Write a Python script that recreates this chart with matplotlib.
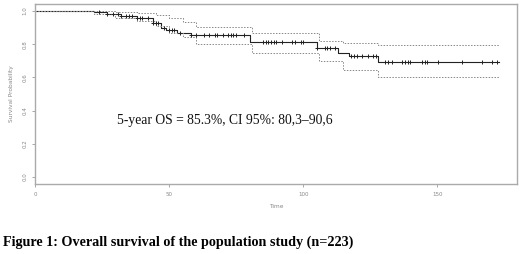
import numpy as np
import matplotlib
matplotlib.use("Agg")
import matplotlib.pyplot as plt

# Kaplan-Meier step curve (time where each step starts, survival value)
km_time = [0, 22, 27, 32, 38, 44, 47, 49, 53, 58, 80, 105, 113, 117, 128]
km_surv = [1.0, 0.995, 0.98, 0.97, 0.955, 0.93, 0.90, 0.885, 0.87, 0.855, 0.814, 0.776, 0.746, 0.728, 0.692]

# 95% confidence band, read as steps
ci_time = [0, 22, 30, 38, 45, 50, 55, 60, 81, 106, 115, 128]
ci_upper = [1.0, 1.0, 0.995, 0.99, 0.975, 0.955, 0.935, 0.906, 0.866, 0.822, 0.81, 0.797]
ci_lower = [1.0, 0.985, 0.96, 0.94, 0.91, 0.87, 0.845, 0.80, 0.746, 0.696, 0.645, 0.60]

t_end = 173

# censoring times (+ marks)
censor = [24, 27, 29, 31, 32, 34, 35, 36, 38, 39, 40, 42, 44, 45, 46, 48, 50, 51,
          52, 54, 58, 60, 63, 65, 67, 68, 70, 72, 73, 74, 75, 78, 85, 86, 87, 88,
          89, 90, 92, 96, 97, 99, 100, 105, 108, 109, 110, 112, 118, 119, 120,
          122, 124, 126, 127, 130.4, 131.7, 133, 136.7, 138, 139.2, 139.8, 144.2,
          145.4, 146, 150.4, 159.1, 166.6, 170.3, 172.2]

annotation = "5-year OS = 85.3%, CI 95%: 80,3\u201390,6"
caption = "Figure 1: Overall survival of the population study (n=223)"


def steps(t, v):
    return list(t) + [t_end], list(v) + [v[-1]]


fig = plt.figure(figsize=(5.2, 2.54), dpi=100)
ax = fig.add_axes([0.0673, 0.2756, 0.9264, 0.7084])

tx, sy = steps(km_time, km_surv)
ax.step(tx, sy, where="post", color="#222222", lw=0.8)
for band in (ci_upper, ci_lower):
    bx, by = steps(ci_time, band)
    ax.step(bx, by, where="post", color="#888888", lw=0.7, ls=(0, (1.5, 1.5)))

idx = np.searchsorted(km_time, censor, side="right") - 1
ax.plot(censor, np.array(km_surv)[idx], "+", color="#222222", ms=3.5, mew=0.7)

ax.set_xlim(0, 179.6)
ax.set_ylim(-0.043, 1.042)
ax.set_xticks([0, 50, 100, 150])
ax.set_yticks([0.0, 0.2, 0.4, 0.6, 0.8, 1.0])
ax.set_yticklabels(["0.0", "0.2", "0.4", "0.6", "0.8", "1.0"], rotation=90, va="center")
ax.tick_params(labelsize=4, colors="#999999", length=2.5, width=0.6, labelcolor="#888888", pad=3)
for s in ax.spines.values():
    s.set_color("#aaaaaa")
    s.set_linewidth(1.0)
ax.set_xlabel("Time", fontsize=4.2, color="#888888", labelpad=5)
ax.set_ylabel("Survival Probability", fontsize=4.2, color="#888888", labelpad=6)

ax.text(0.171, 0.355, annotation, transform=ax.transAxes, fontsize=9.8,
        family="Liberation Serif", color="#111111", va="center")

fig.text(0.006, 0.045, caption, fontsize=10.2, family="Liberation Serif",
         weight="bold", color="black", va="center")

fig.savefig("out.png", dpi=100)
